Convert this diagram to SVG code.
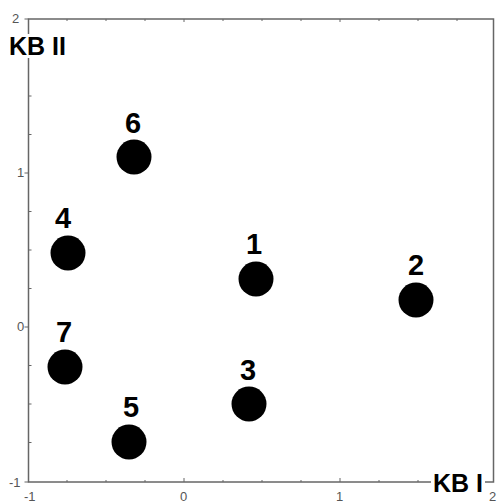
<svg xmlns="http://www.w3.org/2000/svg" width="497" height="503" viewBox="0 0 497 503">
<style>
.ax{stroke:#666;stroke-width:1.5;fill:none}
.tk{stroke:#666;stroke-width:1}
.tl{font-family:"Liberation Sans",Arial,sans-serif;font-size:13px;fill:#555}
.al{font-family:"Liberation Sans",Arial,sans-serif;font-size:25px;font-weight:bold;fill:#000}
.pt{fill:#000}
.lb{font-family:"Liberation Sans",Arial,sans-serif;font-size:29px;font-weight:bold;fill:#000;text-anchor:middle}
</style>
<rect width="497" height="503" fill="#fff"/>
<g id="axes">
<rect class="ax" x="28.5" y="19" width="465" height="463"/>
<g class="tk">
<path d="M28.5 173h-4M28.5 327h-4M28.5 19h-4M28.5 482h-4"/>
<path d="M28.5 57.5h3M28.5 96h3M28.5 134.5h3M28.5 211.5h3M28.5 250h3M28.5 288.5h3M28.5 365.5h3M28.5 404h3M28.5 442.5h3"/>
<path d="M184 482v-4M340 482v-4M67 482v-2M106 482v-2M145 482v-2M223 482v-2M262 482v-2M301 482v-2M379 482v-2M418 482v-2M457 482v-2"/>
<path d="M67 19v2M106 19v2M145 19v2M184 19v3M223 19v2M262 19v2M301 19v2M340 19v3M379 19v2M418 19v2M457 19v2"/>
</g>
<text class="tl" x="12" y="23">2</text>
<text class="tl" x="17" y="177">1</text>
<text class="tl" x="17" y="331">0</text>
<text class="tl" x="9" y="487">-1</text>
<text class="tl" x="24" y="501">-1</text>
<text class="tl" x="180" y="501">0</text>
<text class="tl" x="336" y="501">1</text>
<text class="tl" x="489" y="501">2</text>
<rect x="8" y="34" width="58" height="24" fill="#fff"/>
<text class="al" x="9" y="55">KB II</text>
<rect x="431" y="471" width="54" height="24" fill="#fff"/>
<text class="al" x="433" y="492">KB I</text>
</g>
<g id="p1"><circle class="pt" cx="256" cy="279" r="17.5"/><text class="lb" x="254" y="254">1</text></g>
<g id="p2"><circle class="pt" cx="416" cy="300" r="17.5"/><text class="lb" x="416" y="275">2</text></g>
<g id="p3"><circle class="pt" cx="249" cy="404" r="17.5"/><text class="lb" x="248" y="380">3</text></g>
<g id="p4"><circle class="pt" cx="68" cy="253" r="17.5"/><text class="lb" x="63" y="228">4</text></g>
<g id="p5"><circle class="pt" cx="129" cy="442" r="17.5"/><text class="lb" x="131" y="417">5</text></g>
<g id="p6"><circle class="pt" cx="134" cy="157" r="17.5"/><text class="lb" x="133" y="133">6</text></g>
<g id="p7"><circle class="pt" cx="65" cy="367" r="17.5"/><text class="lb" x="64" y="342">7</text></g>
</svg>
